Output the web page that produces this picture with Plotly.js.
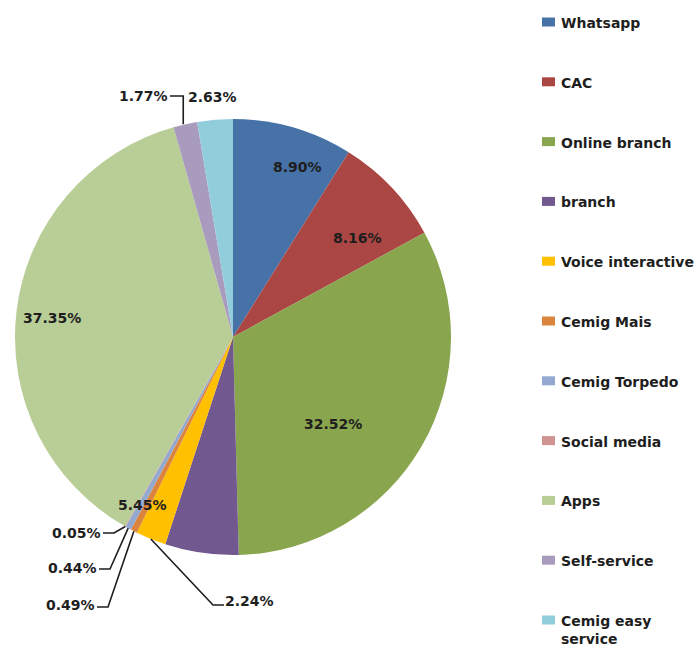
<!DOCTYPE html>
<html>
<head>
<meta charset="utf-8">
<script src="https://cdn.plot.ly/plotly-3.0.1.min.js"></script>
<style>html,body{margin:0;padding:0;background:#fff;}#chart{width:696px;height:650px;}</style>
</head>
<body>
<div id="chart"></div>
<script>
// ---- data ----
const categories = ["Whatsapp", "CAC", "Online branch", "branch", "Voice interactive", "Cemig Mais", "Cemig Torpedo", "Social media", "Apps", "Self-service", "Cemig easy service"];
const values = [8.90, 8.16, 32.52, 5.45, 2.24, 0.49, 0.44, 0.05, 37.35, 1.77, 2.63];
const legendLabels = ["Whatsapp", "CAC", "Online branch", "branch", "Voice interactive", "Cemig Mais", "Cemig Torpedo", "Social media", "Apps", "Self-service", "Cemig easy<br>service"];

// ---- styles / positions ----
const colors = ["#4672A8", "#AA4643", "#89A54E", "#71588F", "#FFC000", "#DB843D", "#93A9CF", "#D19392", "#B9CD96", "#A99BBD", "#92CDDC"];
const W = 696, H = 650;
const cx = 233, cy = 337, R = 218;
// label centre positions (pixels)
const labelXY = [[297,167],[357,238],[333,424],[142,505],[250,601],[70,605],[72,568],[76,533],[52,318],[143,96],[213,97]];
// leader lines: [start point, elbow point]; end = slice edge at mid angle (null = none)
const leaders = [null, null, null, null, [[224,605],[213,605]], [[97,607],[108,607]], [[99,569],[110,569]], [[103,533],[114,533]], null, [[170,96],"v"], null];

const px = x => x / W;
const py = y => 1 - y / H;

const total = values.reduce((a, b) => a + b, 0);
let cum = 0;
const mids = values.map(v => { const m = cum + v / 2; cum += v; return m / total * 2 * Math.PI; });
const edge = i => [cx + R * Math.sin(mids[i]), cy - R * Math.cos(mids[i])];

const annotations = [];
const shapes = [];
const fontLbl = {family: "DejaVu Sans", size: 14, color: "#1e1e1e"};

values.forEach((v, i) => {
  annotations.push({
    x: px(labelXY[i][0]), y: py(labelXY[i][1]), xref: "paper", yref: "paper",
    text: "<b>" + v.toFixed(2) + "%</b>", showarrow: false, xanchor: "center", yanchor: "middle",
    font: fontLbl
  });
  const L = leaders[i];
  if (L) {
    const e = edge(i);
    let pts;
    if (L[1] === "v") pts = [L[0], [e[0] - 2, L[0][1]], [e[0] - 2, e[1]]];
    else pts = [L[0], L[1], e];
    const path = "M " + pts.map(p => px(p[0]) + "," + py(p[1])).join(" L ");
    shapes.push({type: "path", xref: "paper", yref: "paper", path: path, line: {color: "#1e1e1e", width: 1.6}});
  }
});

// legend drawn manually
const legX = 542, legTextX = 559, legY0 = 22, legStep = 59.8;
categories.forEach((c, i) => {
  const y = legY0 + i * legStep;
  shapes.push({type: "rect", xref: "paper", yref: "paper",
    x0: px(legX), x1: px(legX + 13), y0: py(y - 4.5), y1: py(y + 4.5),
    fillcolor: colors[i], line: {width: 0}});
  annotations.push({
    x: px(legTextX), y: py(y - 9), xref: "paper", yref: "paper",
    text: "<b>" + legendLabels[i] + "</b>", showarrow: false, xanchor: "left", yanchor: "top", align: "left",
    font: {family: "DejaVu Sans", size: 14, color: "#1e1e1e"}
  });
});

const trace = {
  type: "pie",
  labels: categories,
  values: values,
  sort: false,
  direction: "clockwise",
  rotation: 0,
  textinfo: "none",
  hoverinfo: "label+percent",
  marker: {colors: colors, line: {width: 0}},
  domain: {x: [px(cx - R), px(cx + R)], y: [py(cy + R), py(cy - R)]},
  showlegend: false
};

const layout = {
  width: W, height: H,
  margin: {l: 0, r: 0, t: 0, b: 0},
  paper_bgcolor: "#ffffff",
  showlegend: false,
  annotations: annotations,
  shapes: shapes
};

Plotly.newPlot("chart", [trace], layout, {displayModeBar: false, staticPlot: true});
</script>
</body>
</html>
